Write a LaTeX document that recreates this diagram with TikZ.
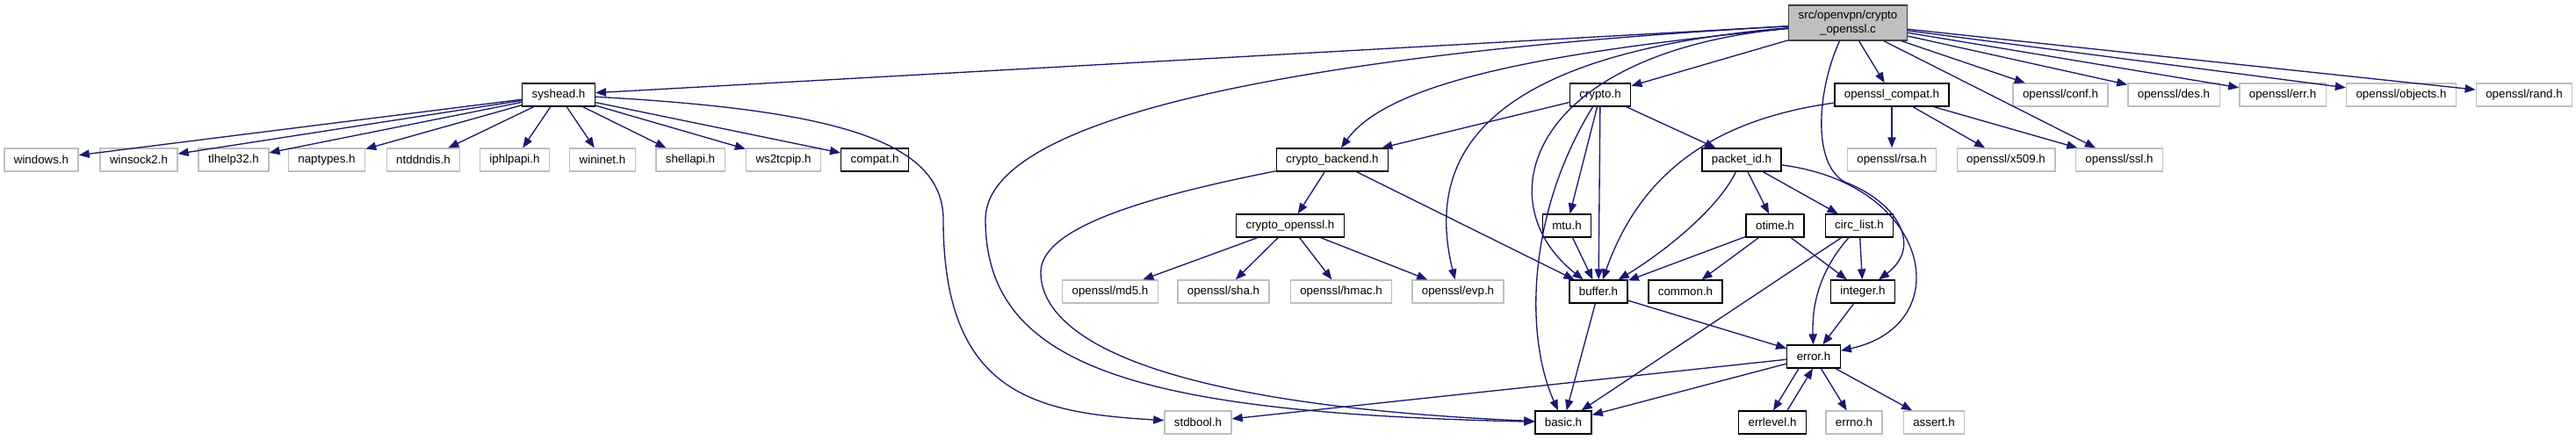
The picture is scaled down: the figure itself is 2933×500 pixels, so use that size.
\documentclass[tikz,border=0pt]{standalone}
\usepackage{fontspec}
\setmainfont{Liberation Sans}
\usetikzlibrary{arrows.meta}
\definecolor{edgeblue}{HTML}{191970}
\definecolor{extgray}{HTML}{BFBFBF}
\definecolor{maingray}{HTML}{BFBFBF}
\tikzset{
  box/.style={draw=black, line width=1pt, rectangle, fill=white, font=\fontsize{10}{12}\selectfont, inner xsep=8.25pt, inner ysep=0pt, minimum height=19.5pt},
  gbox/.style={box, draw=extgray},
  mbox/.style={box, fill=maingray, draw=black!75, align=center, minimum width=100.5pt, minimum height=30pt},
  arr/.style={-{Triangle[length=9pt,width=7pt]}, line width=1pt, draw=edgeblue},
}

\begin{document}
\begin{tikzpicture}[x=0.75pt,y=-0.75pt]
\useasboundingbox (0,0) rectangle (2933,500);
% top
\node[mbox] (main) at (2104,26) {src/openvpn/crypto\\\_openssl.c};
\node[box] (syshead) at (636,108) {syshead.h};
\node[box] (crypto) at (1822,108) {crypto.h};
\node[box] (osslcompat) at (2154,108) {openssl\_compat.h};
\node[gbox] (conf) at (2346,108) {openssl/conf.h};
\node[gbox] (des) at (2475,108) {openssl/des.h};
\node[gbox] (err) at (2599,108) {openssl/err.h};
\node[gbox] (objects) at (2734,108) {openssl/objects.h};
\node[gbox] (rand) at (2874,108) {openssl/rand.h};
% system headers
\node[gbox] (windows) at (47,182) {windows.h};
\node[gbox] (winsock) at (158,182) {winsock2.h};
\node[gbox] (tlhelp) at (266,182) {tlhelp32.h};
\node[gbox] (naptypes) at (372,182) {naptypes.h};
\node[gbox] (ntddndis) at (482,182) {ntddndis.h};
\node[gbox] (iphlpapi) at (586,182) {iphlpapi.h};
\node[gbox] (wininet) at (686,182) {wininet.h};
\node[gbox] (shellapi) at (786,182) {shellapi.h};
\node[gbox] (wstcpip) at (892,182) {ws2tcpip.h};
\node[box] (compat) at (996,182) {compat.h};
\node[box] (backend) at (1517,182) {crypto\_backend.h};
\node[box] (packetid) at (1983,182) {packet\_id.h};
\node[gbox] (rsa) at (2154,182) {openssl/rsa.h};
\node[gbox] (xfive) at (2284,182) {openssl/x509.h};
\node[gbox] (ssl) at (2413,182) {openssl/ssl.h};
% middle
\node[box] (cossl) at (1469,257) {crypto\_openssl.h};
\node[box] (mtu) at (1784,257) {mtu.h};
\node[box] (otime) at (2021,257) {otime.h};
\node[box] (circlist) at (2117,257) {circ\_list.h};
\node[gbox] (md5) at (1264,332) {openssl/md5.h};
\node[gbox] (sha) at (1393,332) {openssl/sha.h};
\node[gbox] (hmac) at (1527,332) {openssl/hmac.h};
\node[gbox] (evp) at (1660,332) {openssl/evp.h};
\node[box] (buffer) at (1820,332) {buffer.h};
\node[box] (common) at (1919,332) {common.h};
\node[box] (integer) at (2121,332) {integer.h};
\node[box] (error) at (2065,406) {error.h};
% bottom
\node[gbox] (stdbool) at (1364,481) {stdbool.h};
\node[box] (basic) at (1780,481) {basic.h};
\node[box] (errlevel) at (2018,481) {errlevel.h};
\node[gbox] (errno) at (2111,481) {errno.h};
\node[gbox] (assert) at (2202,481) {assert.h};
% main file
\draw[arr] (main)--(syshead); \draw[arr] (main)--(crypto); \draw[arr] (main)--(osslcompat); \draw[arr] (main)--(ssl);
\draw[arr] (main)--(conf); \draw[arr] (main)--(des); \draw[arr] (main)--(err); \draw[arr] (main)--(objects); \draw[arr] (main)--(rand);
\draw[arr] (main) .. controls (1750,60) and (1580,95) .. (backend);
\draw[arr] (main) .. controls (1500,60) and (1122,130) .. (1122,250) .. controls (1122,420) and (1300,470) .. (basic);
\draw[arr] (main) .. controls (1700,60) and (1620,170) .. (evp);
\draw[arr] (main) .. controls (1740,60) and (1690,230) .. (buffer);
\draw[arr] (main) .. controls (2070,100) and (2062,185) .. (2100,207) .. controls (2160,230) and (2190,280) .. (integer);
% syshead.h
\foreach \t in {windows,winsock,tlhelp,naptypes,ntddndis,iphlpapi,wininet,shellapi,wstcpip,compat}
  \draw[arr] (syshead)--(\t);
\draw[arr] (syshead) .. controls (950,125) and (1074,160) .. (1074,250) .. controls (1074,450) and (1180,470) .. (stdbool);
% crypto.h and crypto_backend.h
\draw[arr] (crypto)--(backend); \draw[arr] (crypto)--(packetid); \draw[arr] (crypto)--(mtu); \draw[arr] (crypto)--(buffer);
\draw[arr] (crypto) .. controls (1740,240) and (1735,380) .. (basic);
\draw[arr] (backend)--(cossl); \draw[arr] (backend)--(buffer);
\draw[arr] (backend) .. controls (1300,225) and (1185,260) .. (1185,310) .. controls (1185,380) and (1300,460) .. (basic);
\draw[arr] (cossl)--(md5); \draw[arr] (cossl)--(sha); \draw[arr] (cossl)--(hmac); \draw[arr] (cossl)--(evp);
\draw[arr] (mtu)--(buffer);
% openssl_compat.h
\draw[arr] (osslcompat)--(rsa); \draw[arr] (osslcompat)--(xfive); \draw[arr] (osslcompat)--(ssl);
\draw[arr] (osslcompat) .. controls (1960,135) and (1870,190) .. (buffer);
% packet_id.h
\draw[arr] (packetid)--(otime); \draw[arr] (packetid)--(circlist);
\draw[arr] (packetid) .. controls (1955,240) and (1890,290) .. (buffer);
\draw[arr] (packetid) .. controls (2200,210) and (2230,370) .. (error);
\draw[arr] (otime)--(buffer); \draw[arr] (otime)--(common); \draw[arr] (otime)--(integer);
\draw[arr] (circlist)--(basic); \draw[arr] (circlist)--(integer);
\draw[arr] (circlist) .. controls (2070,310) and (2063,350) .. (error);
\draw[arr] (integer)--(error);
% buffer.h and error.h
\draw[arr] (buffer)--(basic); \draw[arr] (buffer)--(error);
\draw[arr] (error)--(stdbool); \draw[arr] (error)--(basic); \draw[arr] (error)--(errno); \draw[arr] (error)--(assert);
\draw[arr] ([xshift=-12.75pt]error.south) -- ([xshift=0.75pt]errlevel.north);
\draw[arr] ([xshift=12.75pt]errlevel.north) -- ([xshift=-0.75pt]error.south);
\end{tikzpicture}
\end{document}
